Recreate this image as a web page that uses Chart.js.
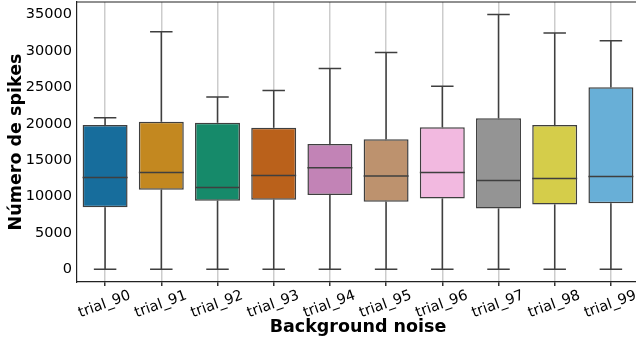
<!DOCTYPE html>
<html>
<head>
<meta charset="utf-8">
<script src="https://cdn.jsdelivr.net/npm/chart.js@4"></script>
<style>
  html, body { margin: 0; padding: 0; background: #fff; overflow: hidden; }
  #wrap { width: 640px; height: 342px; }
</style>
</head>
<body>
<div id="wrap"><canvas id="chart" width="640" height="342"></canvas></div>
<script>
// Datos (caja = cuartiles, bigotes = min/max)
const categorias = ['trial_90', 'trial_91', 'trial_92', 'trial_93', 'trial_94', 'trial_95', 'trial_96', 'trial_97', 'trial_98', 'trial_99'];
const bigoteInf = [0, 0, 0, 0, 0, 0, 0, 0, 0, 0];
const cuartil1 = [8540, 10930, 9410, 9550, 10200, 9270, 9740, 8360, 8910, 9090];
const mediana = [12630, 13320, 11260, 12910, 13960, 12815, 13320, 12220, 12490, 12770];
const cuartil3 = [19840, 20300, 20160, 19470, 17225, 17870, 19520, 20760, 19840, 25040];
const bigoteSup = [20850, 32660, 23700, 24570, 27600, 29800, 25170, 35040, 32480, 31420];
const ticksY = [0, 5000, 10000, 15000, 20000, 25000, 30000, 35000];

// Paleta "colorblind" de seaborn, algo desaturada como en el boxplot
const coloresCajas = [
    'rgb(23,109,156)',
    'rgb(195,136,32)',
    'rgb(22,138,106)',
    'rgb(186,97,27)',
    'rgb(194,131,182)',
    'rgb(189,146,110)',
    'rgb(242,185,224)',
    'rgb(148,148,148)',
    'rgb(213,205,74)',
    'rgb(104,175,215)'
];
const colorLinea = '#3f3f3f';

// Bigotes, tapas y medianas se dibujan con las escalas del propio grafico
const bigotes = {
    id: 'bigotes',
    beforeDatasetsDraw(chart) {
        const ctx = chart.ctx;
        const x = chart.scales.x, y = chart.scales.y;
        const meta = chart.getDatasetMeta(0);
        ctx.save();
        ctx.strokeStyle = colorLinea;
        ctx.lineWidth = 1.5;
        categorias.forEach((c, i) => {
            const px = x.getPixelForValue(i);
            const mitad = meta.data[i].width / 4;
            ctx.beginPath();
            ctx.moveTo(px, y.getPixelForValue(cuartil3[i]));
            ctx.lineTo(px, y.getPixelForValue(bigoteSup[i]));
            ctx.moveTo(px, y.getPixelForValue(cuartil1[i]));
            ctx.lineTo(px, y.getPixelForValue(bigoteInf[i]));
            ctx.moveTo(px - mitad, y.getPixelForValue(bigoteSup[i]));
            ctx.lineTo(px + mitad, y.getPixelForValue(bigoteSup[i]));
            ctx.moveTo(px - mitad, y.getPixelForValue(bigoteInf[i]));
            ctx.lineTo(px + mitad, y.getPixelForValue(bigoteInf[i]));
            ctx.stroke();
        });
        ctx.restore();
    },
    afterDatasetsDraw(chart) {
        const ctx = chart.ctx;
        const y = chart.scales.y;
        const meta = chart.getDatasetMeta(0);
        ctx.save();
        ctx.strokeStyle = colorLinea;
        ctx.lineWidth = 1.5;
        categorias.forEach((c, i) => {
            const bar = meta.data[i];
            const py = y.getPixelForValue(mediana[i]);
            ctx.beginPath();
            ctx.moveTo(bar.x - bar.width / 2, py);
            ctx.lineTo(bar.x + bar.width / 2, py);
            ctx.stroke();
        });
        // marco superior y derecho del area
        const a = chart.chartArea;
        ctx.strokeStyle = '#222';
        ctx.lineWidth = 1.2;
        ctx.beginPath();
        ctx.moveTo(a.left, a.top);
        ctx.lineTo(a.right, a.top);
        ctx.lineTo(a.right, a.bottom);
        ctx.stroke();
        ctx.restore();
    }
};

const ctx = document.getElementById('chart').getContext('2d');
new Chart(ctx, {
    type: 'bar',
    data: {
        labels: categorias,
        datasets: [{
            data: categorias.map((c, i) => [cuartil1[i], cuartil3[i]]),
            backgroundColor: coloresCajas,
            borderColor: colorLinea,
            borderWidth: 1.5,
            borderSkipped: false,
            categoryPercentage: 0.8,
            barPercentage: 1.0
        }]
    },
    options: {
        responsive: false,
        animation: false,
        devicePixelRatio: 1,
        layout: { padding: { top: 2, right: 1, left: 0, bottom: 0 } },
        plugins: { legend: { display: false }, tooltip: { enabled: false } },
        scales: {
            x: {
                afterFit: (s) => {
                    s.height = 60;
                    s.paddingLeft = 0;
                    s.paddingRight = 0;
                },
                grid: {
                    offset: false,
                    color: 'rgba(0,0,0,0.2)',
                    lineWidth: 1.5,
                    drawTicks: true,
                    tickLength: 4,
                    tickColor: '#333'
                },
                border: { display: true, color: '#222', width: 1.2 },
                ticks: {
                    color: '#000',
                    autoSkip: false,
                    font: { family: 'DejaVu Sans', size: 14.5 },
                    minRotation: 20,
                    maxRotation: 20,
                    labelOffset: 25,
                    padding: 1
                },
                title: {
                    display: true,
                    text: 'Background noise',
                    color: '#000',
                    font: { family: 'DejaVu Sans', size: 17.5, weight: 'bold' },
                    padding: { top: 0, bottom: 4 }
                }
            },
            y: {
                min: -1750,
                max: 36750,
                afterFit: (s) => {
                    s.width = 77;
                    s.paddingTop = 0;
                    s.paddingBottom = 0;
                },
                afterBuildTicks: (s) => { s.ticks = ticksY.map(v => ({ value: v })); },
                grid: { display: false, drawTicks: false },
                border: { display: true, color: '#222', width: 1.2 },
                ticks: {
                    color: '#000',
                    font: { family: 'DejaVu Sans', size: 14.5 },
                    padding: 5,
                    callback: (v) => String(v)
                },
                title: {
                    display: true,
                    text: 'Número de spikes',
                    color: '#000',
                    font: { family: 'DejaVu Sans', size: 17.5, weight: 'bold' },
                    padding: { top: 6, bottom: 0 }
                }
            }
        }
    },
    plugins: [bigotes]
});
</script>
</body>
</html>
